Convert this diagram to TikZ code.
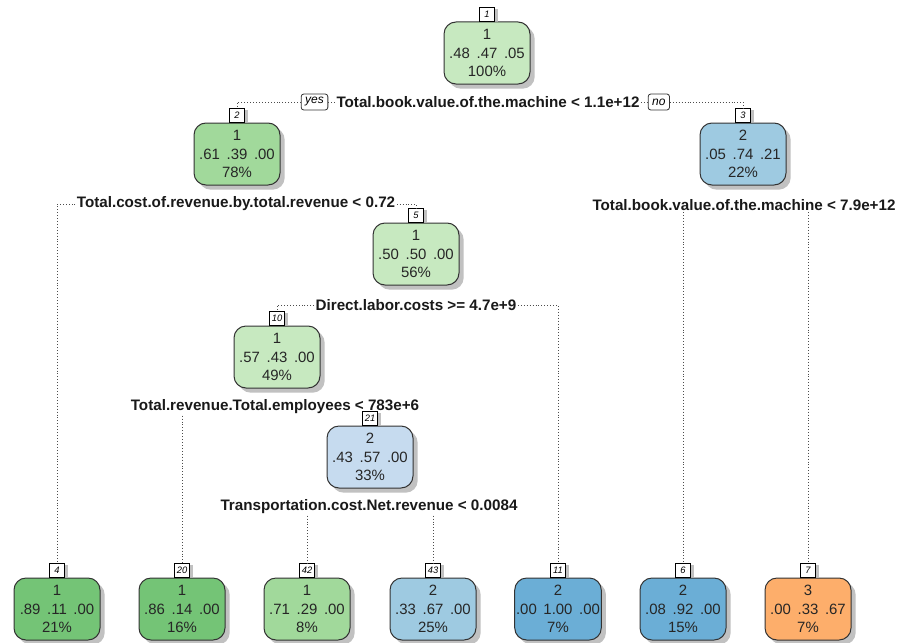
\documentclass[tikz,border=0pt]{standalone}
\usepackage{fontspec}
\setmainfont{Liberation Sans}
\usetikzlibrary{positioning,shadows}

\begin{document}
\begin{tikzpicture}[x=0.75pt,y=-0.75pt,
  box/.style={draw=black!80,line width=0.75pt,rounded corners=9pt,
    minimum width=64.5pt,minimum height=46.5pt,inner sep=1pt,align=center,
    font=\fontsize{11.2}{13.9}\selectfont,text=black!85,
    drop shadow={shadow xshift=3.5pt,shadow yshift=-3.5pt,fill=black!30,opacity=0.8}},
  tag/.style={draw=black,fill=white,line width=0.6pt,inner sep=0pt,
    minimum width=11pt,minimum height=10pt,font=\fontsize{7}{7}\selectfont\itshape,
    drop shadow={shadow xshift=2.5pt,shadow yshift=-1pt,fill=black!30,opacity=0.8}},
  split/.style={font=\fontsize{11.4}{12}\selectfont\bfseries,text=black!90,inner sep=1pt},
  yesno/.style={draw=black!80,fill=white,line width=0.6pt,rounded corners=2pt,
    inner xsep=3pt,inner ysep=1pt,minimum height=12pt,font=\fontsize{9}{9}\selectfont\itshape},
  conn/.style={draw=black!70,line width=0.6pt,dash pattern=on 0.6pt off 1.6pt}]
\definecolor{gLight}{RGB}{199,233,192}
\definecolor{gMid}{RGB}{161,217,155}
\definecolor{gDark}{RGB}{116,196,118}
\definecolor{bPale}{RGB}{198,219,239}
\definecolor{bLight}{RGB}{158,202,225}
\definecolor{bDark}{RGB}{107,174,214}
\definecolor{oMid}{RGB}{253,174,107}
\path[use as bounding box,fill=white] (0,0) rectangle (898,642);

% inner nodes
\node[box,fill=gLight] (n1) at (487,53) {1\\.48\ \,.47\ \,.05\\100\%};
\node[box,fill=gMid] (n2) at (237,154) {1\\.61\ \,.39\ \,.00\\78\%};
\node[box,fill=bLight] (n3) at (743,154) {2\\.05\ \,.74\ \,.21\\22\%};
\node[box,fill=gLight] (n5) at (416,254) {1\\.50\ \,.50\ \,.00\\56\%};
\node[box,fill=gLight] (n10) at (277,357) {1\\.57\ \,.43\ \,.00\\49\%};
\node[box,fill=bPale] (n21) at (370,457) {2\\.43\ \,.57\ \,.00\\33\%};

% leaves
\node[box,fill=gDark] (n4) at (57,609) {1\\.89\ \,.11\ \,.00\\21\%};
\node[box,fill=gDark] (n20) at (182,609) {1\\.86\ \,.14\ \,.00\\16\%};
\node[box,fill=gMid] (n42) at (307,609) {1\\.71\ \,.29\ \,.00\\8\%};
\node[box,fill=bLight] (n43) at (433,609) {2\\.33\ \,.67\ \,.00\\25\%};
\node[box,fill=bDark] (n11) at (558,609) {2\\.00\ \,1.00\ \,.00\\7\%};
\node[box,fill=bDark] (n6) at (683,609) {2\\.08\ \,.92\ \,.00\\15\%};
\node[box,fill=oMid] (n7) at (808,609) {3\\.00\ \,.33\ \,.67\\7\%};

% node numbers
\foreach \k in {1,2,3,5,10,21,4,20,42,43,11,6,7}
  \node[tag,above=0pt of n\k] (t\k) {\k};

% split labels
\node[split] (s1) at (488,102) {Total.book.value.of.the.machine < 1.1e+12};
\node[yesno,left=5pt of s1] (yes) {yes};
\node[yesno,right=5pt of s1] (no) {no};
\node[split] (s2) at (236,204) {Total.cost.of.revenue.by.total.revenue < 0.72};
\node[split] (s3) at (744,205) {Total.book.value.of.the.machine < 7.9e+12};
\node[split] (s5) at (416,305) {Direct.labor.costs >= 4.7e+9};
\node[split] (s10) at (275,407) {Total.revenue.Total.employees < 783e+6};
\node[split] (s21) at (369,507) {Transportation.cost.Net.revenue < 0.0084};

% branches
\draw[conn] (yes.east) -- (s1.west);
\draw[conn] (s1.east) -- (no.west);
\draw[conn] (yes.west) -| (t2.north);
\draw[conn] (no.east) -| (t3.north);
\draw[conn] (s2.west) -| (t4.north);
\draw[conn] (s2.east) -| (t5.north);
\draw[conn] (s5.west) -| (t10.north);
\draw[conn] (s5.east) -| (t11.north);
\draw[conn] (s10.south -| t20.north) -- (t20.north);
\draw[conn] (s21.south -| t42.north) -- (t42.north);
\draw[conn] (s21.south -| t43.north) -- (t43.north);
\draw[conn] (s3.south -| t6.north) -- (t6.north);
\draw[conn] (s3.south -| t7.north) -- (t7.north);
\end{tikzpicture}
\end{document}
